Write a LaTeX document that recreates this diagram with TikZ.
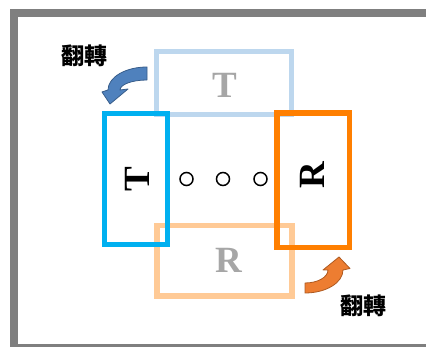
\documentclass[tikz,border=0pt]{standalone}
\usepackage{fontspec}
\setmainfont{Liberation Serif}
\newfontfamily\cjkfont{Noto Sans CJK TC}
\usepackage{tikz}
\usetikzlibrary{positioning,calc}
\usepackage{xcolor}
\definecolor{frame}{HTML}{7F7F7F}
\definecolor{paleblue}{HTML}{BDD7EE}
\definecolor{cyanline}{HTML}{00B0F0}
\definecolor{orangeline}{HTML}{FF7F00}
\definecolor{paleorange}{HTML}{FFCA96}
\definecolor{letter}{HTML}{A6A6A6}
\definecolor{turnblue}{HTML}{4F81BD}
\definecolor{turnblueline}{HTML}{385D8A}
\definecolor{turnorange}{HTML}{ED7D31}
\definecolor{turnorangeline}{HTML}{AE5A21}

\begin{document}
\begin{tikzpicture}[
  x=1pt, y=1pt,
  slot/.style={draw, line width=5.5pt, inner sep=0pt, outer sep=0pt},
  letterbig/.style={font=\fontsize{37}{37}\selectfont\bfseries, inner sep=0pt},
  dot/.style={draw, circle, line width=1.5pt, minimum size=13pt, inner sep=0pt},
  turnlbl/.style={font=\cjkfont\fontsize{23}{23}\selectfont\bfseries, inner sep=0pt}
]
  \useasboundingbox (0,0) rectangle (426,347);
  \clip (0,0) rectangle (426,347);

  % Outer frame
  \draw[frame, line width=8pt] (14,333.5) rectangle (440,-1);

  % Faded boxes
  \node[slot, draw=paleblue, minimum width=135pt, minimum height=63pt] (topbox) at (224,264) {};
  \node[slot, draw=paleorange, minimum width=135pt, minimum height=70.5pt] (botbox) at (224.5,86.25) {};
  \node[letterbig, text=letter] (topT) at (225,261.5) {T};
  \node[letterbig, text=letter] (botR) at (228.5,87) {R};

  % Bold boxes
  \node[slot, draw=cyanline, minimum width=63pt, minimum height=131pt] (leftbox) at (136,168) {};
  \node[slot, draw=orangeline, minimum width=72.5pt, minimum height=134.5pt] (rightbox) at (313.25,166.75) {};
  \node[letterbig, rotate=90] (leftT) at (137.5,168) {T};
  \node[letterbig, rotate=90] (rightR) at (312.5,172) {R};

  % Dots
  \foreach \xx/\nm in {186.5/d1, 223/d2, 260.5/d3}
    \node[dot] (\nm) at (\xx,168) {};

  % Turn arrows
  \draw[fill=turnblue, draw=turnblueline, line width=0.8pt, line join=round]
    (147,280) arc[start angle=90, end angle=180, x radius=39, y radius=23]
    -- (102,255) -- (110,243) -- (128,258) -- (120,257)
    arc[start angle=180, end angle=90, x radius=27, y radius=10] -- cycle;
  \draw[fill=turnorange, draw=turnorangeline, line width=0.8pt, line join=round]
    (305,54) arc[start angle=270, end angle=360, x radius=38, y radius=23]
    -- (350,78.5) -- (339,90) -- (323,77) -- (328,77)
    arc[start angle=0, end angle=-90, x radius=23, y radius=13] -- cycle;

  % Labels
  \node[turnlbl] (turnA) at (84,291) {翻轉};
  \node[turnlbl] (turnB) at (363,41.5) {翻轉};
\end{tikzpicture}
\end{document}
